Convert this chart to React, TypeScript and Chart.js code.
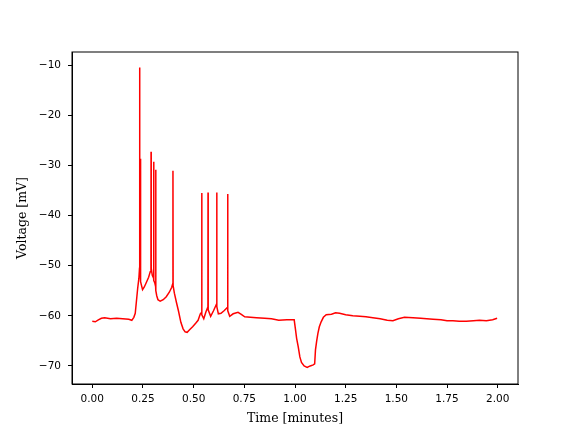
import React, { useEffect, useRef } from "react";
import { Chart, registerables } from "chart.js";
Chart.register(...registerables);

const times = [
  0.000, 0.015, 0.030, 0.045, 0.061, 0.090, 0.120, 0.150, 0.180, 0.195,
  0.205, 0.212, 0.218, 0.224, 0.230, 0.2330, 0.2336, 0.2345, 0.2365, 0.2370,
  0.2378, 0.240, 0.248, 0.256, 0.265, 0.278, 0.286, 0.2895, 0.2900, 0.2908,
  0.296, 0.3025, 0.3030, 0.3038, 0.308, 0.3125, 0.3130, 0.3138, 0.318, 0.324,
  0.335, 0.350, 0.365, 0.380, 0.392, 0.3975, 0.3980, 0.3988, 0.405, 0.415,
  0.425, 0.437, 0.448, 0.458, 0.468, 0.480, 0.495, 0.510, 0.522, 0.533,
  0.5395, 0.5400, 0.5408, 0.550, 0.560, 0.5705, 0.5710, 0.5718, 0.584, 0.598,
  0.6135, 0.6140, 0.6148, 0.622, 0.635, 0.650, 0.6675, 0.6680, 0.6688, 0.678,
  0.695, 0.719, 0.735, 0.752, 0.780, 0.810, 0.850, 0.884, 0.920, 0.960,
  0.996, 1.002, 1.008, 1.016, 1.024, 1.032, 1.045, 1.060, 1.075, 1.090,
  1.097, 1.101, 1.107, 1.113, 1.120, 1.129, 1.140, 1.154, 1.180, 1.200,
  1.220, 1.250, 1.285, 1.320, 1.350, 1.384, 1.420, 1.455, 1.483, 1.510,
  1.540, 1.582, 1.620, 1.650, 1.681, 1.720, 1.750, 1.779, 1.810, 1.845,
  1.880, 1.910, 1.944, 1.975, 1.997,
];

const volts = [
  -61.1, -61.2, -60.8, -60.5, -60.4, -60.6, -60.5, -60.6, -60.7, -60.9,
  -60.3, -59.5, -57.0, -54.5, -52.5, -50.5, -10.5, -48.0, -50.0, -28.7,
  -51.5, -53.2, -54.8, -54.3, -53.5, -52.3, -51.2, -50.0, -27.3, -50.5,
  -51.9, -52.5, -29.3, -53.0, -53.4, -54.2, -30.9, -55.0, -56.0, -56.8,
  -57.1, -56.8, -56.2, -55.3, -54.3, -53.5, -31.1, -54.0, -55.5, -57.3,
  -59.0, -61.3, -62.6, -63.2, -63.3, -62.8, -62.2, -61.5, -60.9, -59.6,
  -59.3, -35.5, -59.8, -60.6, -59.3, -58.2, -35.4, -58.8, -60.1, -59.0,
  -57.6, -35.4, -58.2, -59.6, -59.5, -59.0, -58.3, -35.7, -59.0, -60.1,
  -59.6, -59.3, -59.7, -60.2, -60.3, -60.4, -60.5, -60.6, -60.9, -60.8,
  -60.8, -62.6, -64.5, -66.2, -68.2, -69.3, -70.0, -70.3, -70.0, -69.8,
  -69.6, -66.8, -65.0, -63.5, -62.2, -61.2, -60.3, -59.8, -59.7, -59.4,
  -59.5, -59.8, -60.0, -60.1, -60.2, -60.4, -60.6, -60.9, -61.0, -60.6,
  -60.3, -60.4, -60.5, -60.6, -60.7, -60.8, -61.0, -61.0, -61.1, -61.1,
  -61.0, -60.9, -61.0, -60.8, -60.5,
];

const xTicks = [0, 0.25, 0.5, 0.75, 1.0, 1.25, 1.5, 1.75, 2.0];
const yTicks = [-70, -60, -50, -40, -30, -20, -10];

export default function App() {
  const ref = useRef<HTMLCanvasElement>(null);
  useEffect(() => {
    document.body.style.margin = "0";
    const framePlugin = {
      id: "frame",
      afterDraw(chart: any) {
        const { ctx, chartArea: a } = chart;
        ctx.save();
        ctx.strokeStyle = "#000";
        ctx.lineWidth = 1;
        ctx.strokeRect(a.left, a.top, a.right - a.left, a.bottom - a.top);
        ctx.restore();
      },
    };
    const tickFont = { family: "DejaVu Sans", size: 10.5 };
    const titleFont = { family: "DejaVu Serif", size: 12.5 };
    const chart = new Chart(ref.current!, {
      type: "line",
      data: {
        datasets: [
          {
            data: times.map((t, i) => ({ x: t, y: volts[i] })),
            borderColor: "#ff0000",
            borderWidth: 1.5,
            pointRadius: 0,
            tension: 0,
            fill: false,
          },
        ],
      },
      options: {
        responsive: false,
        animation: false,
        devicePixelRatio: 1,
        layout: { padding: { left: 0, right: 58, top: 52, bottom: 0 } },
        plugins: { legend: { display: false }, tooltip: { enabled: false } },
        scales: {
          x: {
            type: "linear",
            min: -0.1,
            max: 2.1,
            afterBuildTicks: (s: any) => {
              s.ticks = xTicks.map((v) => ({ value: v }));
            },
            afterFit: (s: any) => {
              s.height = 48;
            },
            grid: { display: true, drawOnChartArea: false, drawTicks: true, tickLength: 4, color: "#000" },
            border: { display: true, color: "#000", width: 1 },
            ticks: {
              padding: 5,
              color: "#000",
              font: tickFont,
              maxRotation: 0,
              autoSkip: false,
              callback: (v: any) => Number(v).toFixed(2),
            },
            title: {
              display: true,
              text: "Time [minutes]",
              color: "#000",
              font: titleFont,
              padding: { top: 0, bottom: 5.5 },
            },
          },
          y: {
            type: "linear",
            min: -73.6,
            max: -7.4,
            afterBuildTicks: (s: any) => {
              s.ticks = yTicks.map((v) => ({ value: v }));
            },
            afterFit: (s: any) => {
              s.width = 72;
            },
            grid: { display: true, drawOnChartArea: false, drawTicks: true, tickLength: 4, color: "#000" },
            border: { display: true, color: "#000", width: 1 },
            ticks: {
              padding: 7,
              color: "#000",
              font: tickFont,
              autoSkip: false,
              callback: (v: any) => String(v).replace("-", "\u2212"),
            },
            title: {
              display: true,
              text: "Voltage [mV]",
              color: "#000",
              font: titleFont,
              padding: { top: 15, bottom: 0 },
            },
          },
        },
      },
      plugins: [framePlugin],
    } as any);
    return () => chart.destroy();
  }, []);
  return (
    <div style={{ width: 576, height: 432 }}>
      <canvas ref={ref} width={576} height={432} style={{ display: "block" }} />
    </div>
  );
}
